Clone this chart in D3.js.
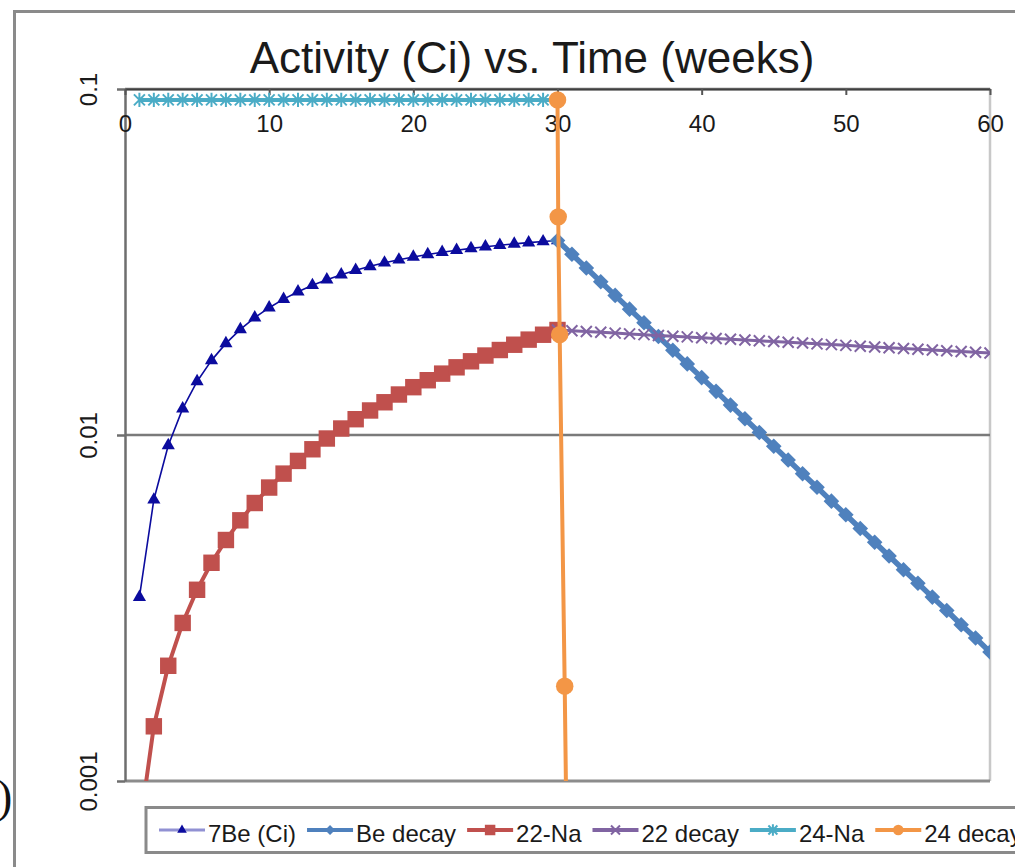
<!DOCTYPE html>
<html>
<head>
<meta charset="utf-8">
<script src="https://cdn.jsdelivr.net/npm/d3@7"></script>
<style>
	body { margin: 0; background: #fff; }
	svg text { font-family: "Liberation Sans", Arial, sans-serif; fill: #1a1a1a; }
</style>
</head>
<body>
<script>

	// ---- data ----
	var weeksUp = [1, 2, 3, 4, 5, 6, 7, 8, 9, 10, 11, 12, 13, 14, 15,
		16, 17, 18, 19, 20, 21, 22, 23, 24, 25, 26, 27, 28, 29, 30];
	var weeksDown = [30, 31, 32, 33, 34, 35, 36, 37, 38, 39, 40, 41, 42, 43, 44, 45,
		46, 47, 48, 49, 50, 51, 52, 53, 54, 55, 56, 57, 58, 59, 60];

	var be7 = [0.00340, 0.00650, 0.00933, 0.01192, 0.01428, 0.01643, 0.01840, 0.02020,
		0.02184, 0.02333, 0.02470, 0.02595, 0.02708, 0.02812, 0.02907, 0.02994,
		0.03072, 0.03145, 0.03210, 0.03271, 0.03325, 0.03375, 0.03421, 0.03463,
		0.03501, 0.03536, 0.03568, 0.03597, 0.03623, 0.03647];
	var beDecay = [0.03647, 0.03329, 0.03039, 0.02774, 0.02532, 0.02311, 0.02110, 0.01926,
		0.01758, 0.01605, 0.01465, 0.01337, 0.01220, 0.01114, 0.01017, 0.00928,
		0.00847, 0.00773, 0.00706, 0.00644, 0.00588, 0.00537, 0.00490, 0.00447,
		0.00408, 0.00373, 0.00340, 0.00311, 0.00283, 0.00259, 0.00236];
	var na22 = [0.000721, 0.001439, 0.002153, 0.002863, 0.003570, 0.004273, 0.004972,
		0.005668, 0.006360, 0.007049, 0.007734, 0.008416, 0.009094, 0.009769,
		0.010441, 0.011109, 0.011773, 0.012434, 0.013092, 0.013747, 0.014398,
		0.015045, 0.015690, 0.016331, 0.016970, 0.017604, 0.018235, 0.018865,
		0.019489, 0.020111];
	var na22Decay = [0.02011, 0.02001, 0.01991, 0.01981, 0.01970, 0.01960, 0.01950, 0.01940,
		0.01930, 0.01921, 0.01911, 0.01901, 0.01891, 0.01882, 0.01872, 0.01863,
		0.01853, 0.01844, 0.01834, 0.01825, 0.01816, 0.01806, 0.01797, 0.01788,
		0.01779, 0.01770, 0.01761, 0.01752, 0.01743, 0.01734, 0.01725];
	var na24 = [0.093, 0.093, 0.093, 0.093, 0.093, 0.093, 0.093, 0.093, 0.093, 0.093,
		0.093, 0.093, 0.093, 0.093, 0.093, 0.093, 0.093, 0.093, 0.093, 0.093,
		0.093, 0.093, 0.093, 0.093, 0.093, 0.093, 0.093, 0.093, 0.093, 0.093];
	var na24DecayWeeks = [30, 30.05, 30.15, 30.5, 31];
	var na24Decay = [0.093, 0.0427, 0.0195, 0.00188, 0.00004];

	var xTicks = [0, 10, 20, 30, 40, 50, 60];
	var yTicks = [0.001, 0.01, 0.1];
	var yTickLabels = ["0.001", "0.01", "0.1"];
	var seriesNames = ["7Be (Ci)", "Be decay", "22-Na", "22 decay", "24-Na", "24 decay"];

	// ---- size of the picture ----
	var width = 1015;
	var height = 867;
	var plot = {left: 125, right: 990, top: 89, bottom: 781};

	var svg = d3.select("body")
		.append("svg")
		.attr("width", width)
		.attr("height", height);

	// outer chart frame (runs off the right / bottom edge)
	svg.append("rect")
		.attr("x", 14.5).attr("y", 11.5)
		.attr("width", 1100).attr("height", 1000)
		.attr("fill", "none")
		.attr("stroke", "#8a8a8a")
		.attr("stroke-width", 3);

	// stray cut-off glyph at the left edge
	svg.append("text")
		.attr("x", -3).attr("y", 812)
		.style("font-family", "'Liberation Serif', 'Times New Roman', serif")
		.style("font-size", "46px")
		.style("fill", "#111")
		.text(")");

	var x = d3.scaleLinear().domain([0, 60]).range([plot.left, plot.right]);
	var y = d3.scaleLog().domain([0.001, 0.1]).range([plot.bottom, plot.top]);

	// title
	svg.append("text")
		.attr("x", 532).attr("y", 73)
		.attr("text-anchor", "middle")
		.style("font-size", "44px")
		.text("Activity (Ci) vs. Time (weeks)");

	// right border of the plot area
	svg.append("line")
		.attr("x1", plot.right).attr("x2", plot.right)
		.attr("y1", plot.top).attr("y2", plot.bottom)
		.attr("stroke", "#c8c8c8").attr("stroke-width", 2.5);

	// major gridlines
	svg.append("g").selectAll("line")
		.data(yTicks)
		.enter()
		.append("line")
		.attr("x1", plot.left).attr("x2", plot.right)
		.attr("y1", function(d) { return y(d); })
		.attr("y2", function(d) { return y(d); })
		.attr("stroke", function(d) { return d === 0.001 ? "#8c8c8c" : "#7a7a7a"; })
		.attr("stroke-width", function(d) { return d === 0.001 ? 3 : 2.5; });

	// y axis on the left, labels turned
	var yAxis = svg.append("g")
		.attr("transform", "translate(" + plot.left + ",0)")
		.call(d3.axisLeft(y).tickValues(yTicks).tickSize(8).tickSizeOuter(0)
			.tickFormat(function(d, i) { return yTickLabels[i]; }));
	yAxis.select(".domain").attr("stroke", "#6e6e6e").attr("stroke-width", 2.5);
	yAxis.selectAll(".tick line").attr("stroke", "#6e6e6e").attr("stroke-width", 2.5);
	yAxis.selectAll(".tick text")
		.attr("x", null).attr("dy", null)
		.attr("text-anchor", "middle")
		.attr("transform", "translate(-28,0) rotate(-90)")
		.style("font-size", "24px")
		.style("font-family", "'Liberation Sans', Arial, sans-serif")
		.attr("fill", "#1a1a1a");

	// x axis sits along the top (at 0.1), labels just under it
	var xAxis = svg.append("g")
		.attr("transform", "translate(0," + plot.top + ")")
		.call(d3.axisBottom(x).tickValues(xTicks).tickSize(6).tickSizeOuter(0).tickPadding(20));
	xAxis.select(".domain").attr("stroke", "#404040").attr("stroke-width", 2);
	xAxis.selectAll(".tick line").attr("stroke", "#555").attr("stroke-width", 2);
	xAxis.selectAll(".tick text")
		.style("font-size", "24px")
		.style("font-family", "'Liberation Sans', Arial, sans-serif")
		.attr("fill", "#1a1a1a");

	// clip everything to the plot area
	svg.append("clipPath").attr("id", "plotclip")
		.append("rect")
		.attr("x", plot.left).attr("y", plot.top - 12)
		.attr("width", plot.right - plot.left)
		.attr("height", plot.bottom - plot.top + 12);

	var g = svg.append("g").attr("clip-path", "url(#plotclip)");

	function zipUp(xs, ys) {
		return xs.map(function(v, i) { return [v, ys[i]]; });
	}

	var line = d3.line()
		.x(function(d) { return x(d[0]); })
		.y(function(d) { return y(d[1]); });

	// marker shapes
	var tri = d3.symbol().type(d3.symbolTriangle);
	var sq = d3.symbol().type(d3.symbolSquare);
	var circ = d3.symbol().type(d3.symbolCircle);
	function diamondPath(s) { return "M0," + (-s) + "L" + s + ",0L0," + s + "L" + (-s) + ",0Z"; }
	function crossPath(s) { return "M" + (-s) + "," + (-s) + "L" + s + "," + s + "M" + (-s) + "," + s + "L" + s + "," + (-s); }
	function starPath(s) { return crossPath(s) + "M0," + (-s * 1.3) + "L0," + (s * 1.3); }

	var series = [
		{name: seriesNames[0], data: zipUp(weeksUp, be7), color: "#0b0b9e", lw: 1.6,
			mark: function(k) { return tri.size(k ? 40 : 75)(); }, fill: true},
		{name: seriesNames[1], data: zipUp(weeksDown, beDecay), color: "#4f81bd", lw: 5.5,
			mark: function(k) { return diamondPath(k ? 5 : 7.8); }, fill: true},
		{name: seriesNames[2], data: zipUp(weeksUp, na22), color: "#c0504d", lw: 4,
			mark: function(k) { return sq.size(k ? 110 : 270)(); }, fill: true},
		{name: seriesNames[3], data: zipUp(weeksDown, na22Decay), color: "#8064a2", lw: 3,
			mark: function(k) { return crossPath(k ? 4.5 : 5.5); }, fill: false},
		{name: seriesNames[4], data: zipUp(weeksUp, na24), color: "#4bacc6", lw: 4,
			mark: function(k) { return starPath(k ? 4.5 : 5.5); }, fill: false},
		{name: seriesNames[5], data: zipUp(na24DecayWeeks, na24Decay), color: "#f39646", lw: 4,
			mark: function(k) { return circ.size(k ? 90 : 240)(); }, fill: true}
	];

	series.forEach(function(s) {
		g.append("path")
			.datum(s.data)
			.attr("d", line)
			.attr("fill", "none")
			.attr("stroke", s.color)
			.attr("stroke-width", s.lw)
			.attr("stroke-linejoin", "round");

		g.selectAll(null)
			.data(s.data)
			.enter()
			.append("path")
			.attr("transform", function(d) { return "translate(" + x(d[0]) + "," + y(d[1]) + ")"; })
			.attr("d", s.mark(0))
			.attr("fill", s.fill ? s.color : "none")
			.attr("stroke", s.color)
			.attr("stroke-width", s.fill ? 0 : 2);
	});

	// ---- legend at the bottom ----
	var legend = svg.append("g");
	legend.append("rect")
		.attr("x", 146).attr("y", 807.5)
		.attr("width", 1000).attr("height", 45)
		.attr("fill", "#fff")
		.attr("stroke", "#8a8a8a")
		.attr("stroke-width", 3);

	var lx = 159;
	series.forEach(function(s) {
		var item = legend.append("g").attr("transform", "translate(" + lx + ",830)");
		item.append("line")
			.attr("x1", 0).attr("x2", 46)
			.attr("stroke", s.color)
			.attr("stroke-opacity", s.lw < 2 ? 0.45 : 1)
			.attr("stroke-width", s.lw < 2 ? 3 : 4);
		item.append("path")
			.attr("transform", "translate(23,0)")
			.attr("d", s.mark(1))
			.attr("fill", s.fill ? s.color : "none")
			.attr("stroke", s.color)
			.attr("stroke-width", s.fill ? 0 : 2);
		var t = item.append("text")
			.attr("x", 49).attr("y", 12)
			.style("font-size", "24px")
			.text(s.name);
		lx += 49 + t.node().getComputedTextLength() + 11;
	});

</script>
</body>
</html>
